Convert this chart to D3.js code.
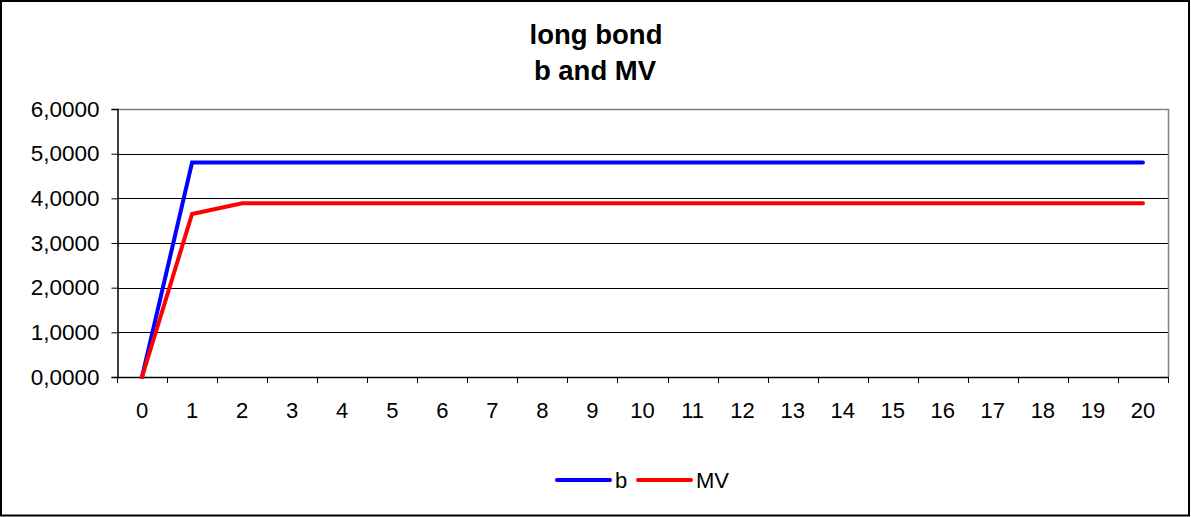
<!DOCTYPE html>
<html>
<head>
<meta charset="utf-8">
<script src="https://cdn.jsdelivr.net/npm/d3@7"></script>
<style>
  html, body { margin: 0; padding: 0; background: #fff; }
  svg { display: block; font-family: "Liberation Sans", Arial, sans-serif; }
</style>
</head>
<body>
<svg id="chart" width="1191" height="517"></svg>
<script>
const titleLines = ["long bond", "b and MV"];
const categories = ["0","1","2","3","4","5","6","7","8","9","10","11","12","13","14","15","16","17","18","19","20"];
const seriesB  = [0, 4.80, 4.80, 4.80, 4.80, 4.80, 4.80, 4.80, 4.80, 4.80, 4.80, 4.80, 4.80, 4.80, 4.80, 4.80, 4.80, 4.80, 4.80, 4.80, 4.80];
const seriesMV = [0, 3.65, 3.89, 3.89, 3.89, 3.89, 3.89, 3.89, 3.89, 3.89, 3.89, 3.89, 3.89, 3.89, 3.89, 3.89, 3.89, 3.89, 3.89, 3.89, 3.89];
const yTicks = [0, 1, 2, 3, 4, 5, 6];
const seriesNames = ["b", "MV"];
const seriesColors = ["#0000ff", "#ff0000"];

const svg = d3.select("#chart");
const W = 1191, H = 517;
const plot = { left: 117, right: 1168, top: 109, bottom: 377 };

// outer border
svg.append("rect").attr("x", 1).attr("y", 1).attr("width", W - 3).attr("height", H - 2.5)
  .attr("fill", "#fff").attr("stroke", "#000").attr("stroke-width", 2);

const x = d3.scaleBand().domain(categories).range([plot.left, plot.right]).padding(0);
const y = d3.scaleLinear().domain([0, 6]).range([plot.bottom, plot.top]);
const xc = c => x(c) + x.bandwidth() / 2;

// gridlines
svg.append("g").selectAll("line").data(yTicks.filter(t => t > 0 && t < 6)).join("line")
  .attr("x1", plot.left).attr("x2", plot.right)
  .attr("y1", d => Math.round(y(d)) + 0.5).attr("y2", d => Math.round(y(d)) + 0.5)
  .attr("stroke", "#000").attr("stroke-width", 1);

// plot border top/right gray
svg.append("path")
  .attr("d", `M${plot.left},${plot.top + 0.5}H${plot.right + 0.5}V${plot.bottom}`)
  .attr("fill", "none").attr("stroke", "#808080").attr("stroke-width", 1.5);

// y axis
const yAxis = d3.axisLeft(y).tickValues(yTicks).tickSize(6).tickPadding(12)
  .tickFormat(d => d3.format(".4f")(d).replace(".", ","));
const gy = svg.append("g").attr("transform", `translate(${plot.left + 0.5},0)`).call(yAxis);
gy.select(".domain").attr("stroke", "#000").attr("stroke-width", 1.5);
gy.selectAll(".tick line").attr("stroke", "#000");
gy.selectAll(".tick text").attr("font-size", 22.5).attr("fill", "#000")
  .attr("font-family", "Liberation Sans, Arial, sans-serif");

// x axis (ticks at band edges)
const xAxisG = svg.append("g");
xAxisG.append("line").attr("x1", plot.left).attr("x2", plot.right + 0.5)
  .attr("y1", plot.bottom + 0.5).attr("y2", plot.bottom + 0.5)
  .attr("stroke", "#000").attr("stroke-width", 1.5);
const edges = categories.map(c => x(c)).concat([plot.right]);
xAxisG.selectAll("line.tk").data(edges).join("line").attr("class", "tk")
  .attr("x1", d => Math.round(d) + 0.5).attr("x2", d => Math.round(d) + 0.5)
  .attr("y1", plot.bottom).attr("y2", plot.bottom + 6)
  .attr("stroke", "#000").attr("stroke-width", 1);
xAxisG.selectAll("text").data(categories).join("text")
  .attr("x", d => xc(d)).attr("y", 418)
  .attr("text-anchor", "middle").attr("font-size", 22).attr("fill", "#000")
  .text(d => d);

// lines
const line = d3.line().x((d, i) => xc(categories[i])).y(d => y(d));
[seriesB, seriesMV].forEach((s, i) => {
  svg.append("path").datum(s).attr("d", line)
    .attr("fill", "none").attr("stroke", seriesColors[i]).attr("stroke-width", 4)
    .attr("stroke-linejoin", "miter").attr("stroke-linecap", "round");
});

// title
svg.append("text").attr("x", 596).attr("y", 44).attr("text-anchor", "middle")
  .attr("font-size", 27.5).attr("font-weight", "bold").text(titleLines[0]);
svg.append("text").attr("x", 595).attr("y", 80).attr("text-anchor", "middle")
  .attr("font-size", 27.5).attr("font-weight", "bold").text(titleLines[1]);

// legend
const legendItems = [
  { x: 557, tx: 615 },
  { x: 638, tx: 696 }
];
legendItems.forEach((li, i) => {
  svg.append("line").attr("x1", li.x).attr("x2", li.x + 53).attr("y1", 480).attr("y2", 480)
    .attr("stroke", seriesColors[i]).attr("stroke-width", 4).attr("stroke-linecap", "round");
  svg.append("text").attr("x", li.tx).attr("y", 488).attr("font-size", 22).attr("fill", "#000")
    .text(seriesNames[i]);
});
</script>
</body>
</html>
